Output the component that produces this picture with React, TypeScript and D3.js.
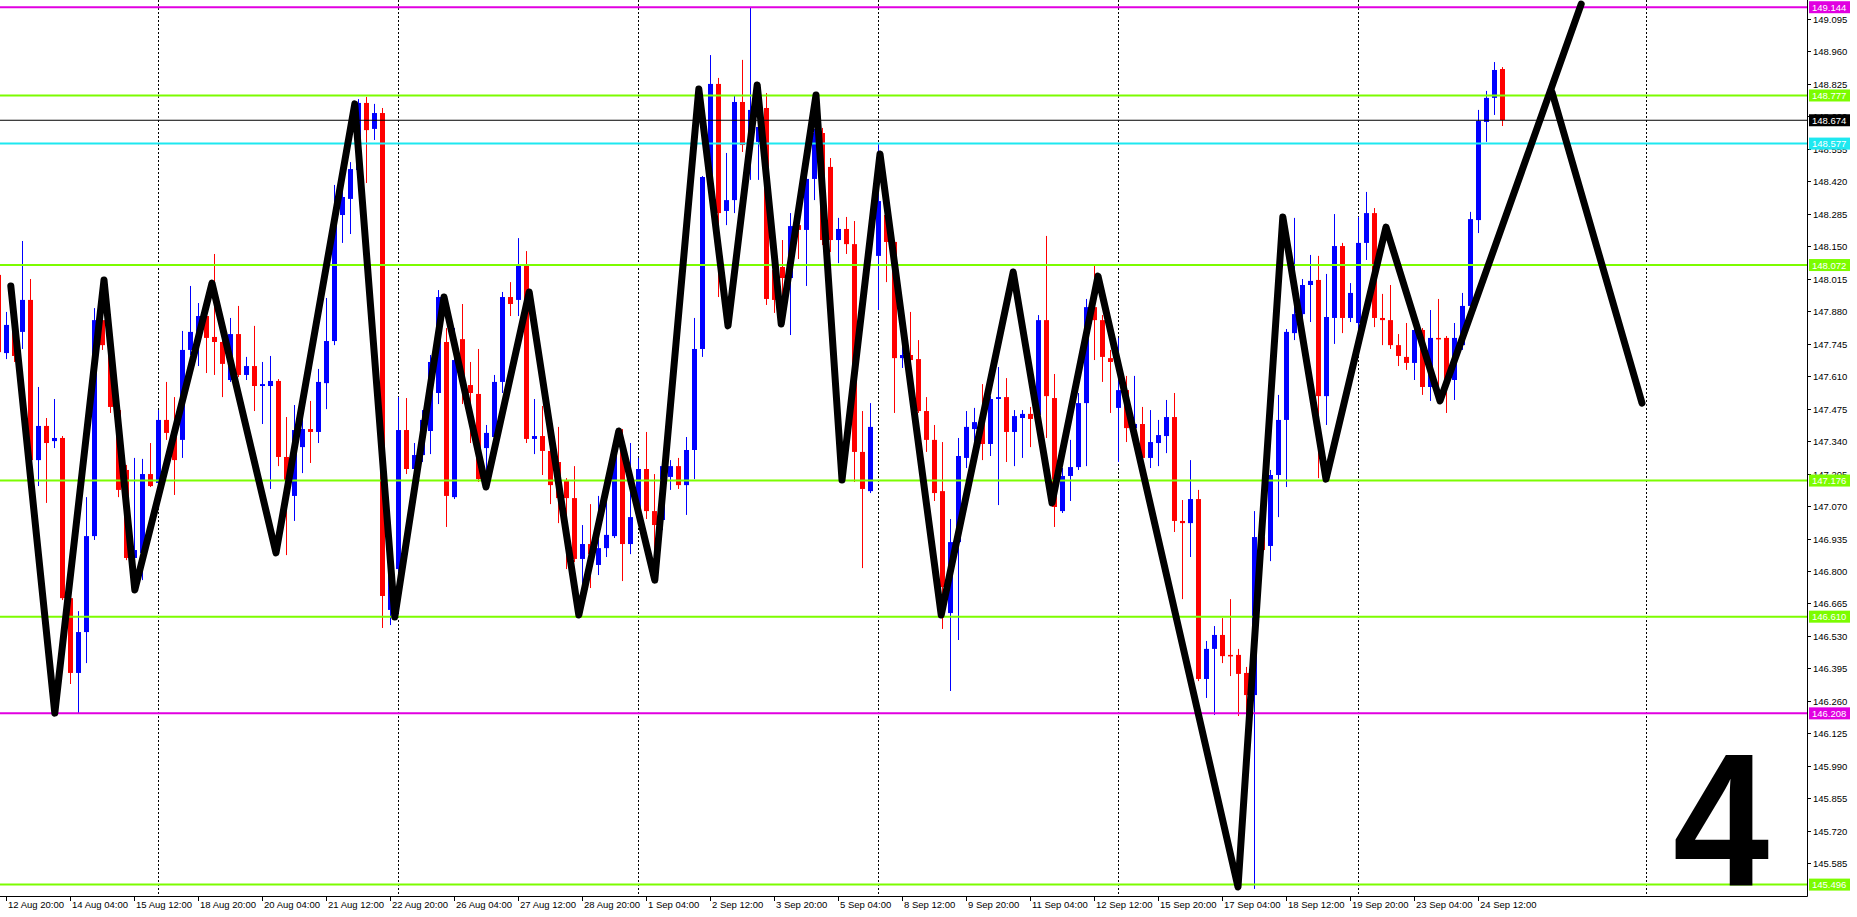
import React, { useRef, useEffect } from 'react';
import * as d3 from 'd3';

const W = 1857;
const H = 917;

// H4 bars, index of the first row below (it is cut at the left edge)
const firstBar = -1;

// [open, high, low, close]
const candles: [number, number, number, number][] = [
  [148.031, 148.060, 147.677, 147.710],
  [147.706, 147.877, 147.681, 147.823],
  [147.802, 147.843, 147.669, 147.694],
  [147.794, 148.172, 147.723, 147.927],
  [147.927, 148.014, 147.220, 147.261],
  [147.261, 147.565, 147.153, 147.403],
  [147.403, 147.436, 147.083, 147.332],
  [147.340, 147.515, 147.311, 147.353],
  [147.353, 147.361, 146.679, 146.687],
  [146.687, 146.696, 146.330, 146.376],
  [146.376, 146.633, 146.209, 146.546],
  [146.546, 147.107, 146.417, 146.945],
  [146.945, 147.893, 146.929, 147.843],
  [147.843, 147.873, 147.719, 147.739],
  [147.739, 147.760, 147.457, 147.482],
  [147.469, 147.490, 147.107, 147.137],
  [147.220, 147.241, 146.845, 146.854],
  [146.854, 147.270, 146.762, 146.887],
  [146.875, 147.266, 146.762, 147.203],
  [147.203, 147.332, 147.149, 147.153],
  [147.166, 147.469, 147.157, 147.428],
  [147.428, 147.586, 147.345, 147.374],
  [147.386, 147.523, 147.116, 147.261],
  [147.345, 147.798, 147.270, 147.719],
  [147.719, 147.985, 147.698, 147.794],
  [147.794, 147.914, 147.652, 147.860],
  [147.860, 147.873, 147.623, 147.769],
  [147.773, 148.118, 147.615, 147.752],
  [147.752, 147.760, 147.523, 147.661],
  [147.594, 147.852, 147.586, 147.785],
  [147.785, 147.902, 147.606, 147.615],
  [147.615, 147.690, 147.594, 147.652],
  [147.652, 147.819, 147.465, 147.569],
  [147.569, 147.669, 147.411, 147.577],
  [147.569, 147.694, 147.141, 147.590],
  [147.590, 147.598, 147.236, 147.274],
  [147.274, 147.440, 146.866, 147.178],
  [147.112, 147.490, 147.008, 147.386],
  [147.315, 147.440, 147.207, 147.390],
  [147.390, 147.507, 147.249, 147.378],
  [147.378, 147.640, 147.332, 147.586],
  [147.581, 147.935, 147.473, 147.756],
  [147.756, 148.405, 147.739, 148.280],
  [148.280, 148.384, 148.164, 148.355],
  [148.347, 148.500, 148.201, 148.471],
  [148.467, 148.762, 148.446, 148.746],
  [148.746, 148.771, 148.413, 148.633],
  [148.638, 148.742, 148.592, 148.704],
  [148.704, 148.725, 146.563, 146.696],
  [146.638, 146.908, 146.575, 146.808],
  [146.808, 147.523, 146.796, 147.386],
  [147.386, 147.519, 147.203, 147.224],
  [147.224, 147.332, 147.174, 147.282],
  [147.282, 147.469, 147.253, 147.428],
  [147.382, 147.698, 147.286, 147.669],
  [147.540, 147.968, 147.494, 147.939],
  [147.752, 147.810, 146.983, 147.112],
  [147.107, 147.810, 147.099, 147.677],
  [147.764, 147.910, 147.494, 147.573],
  [147.573, 147.669, 147.332, 147.540],
  [147.536, 147.723, 147.170, 147.182],
  [147.311, 147.407, 147.149, 147.374],
  [147.357, 147.615, 147.345, 147.586],
  [147.586, 147.960, 147.540, 147.939],
  [147.939, 148.001, 147.860, 147.910],
  [147.927, 148.184, 147.860, 148.068],
  [148.068, 148.130, 147.332, 147.349],
  [147.349, 147.515, 147.286, 147.361],
  [147.361, 147.486, 147.199, 147.299],
  [147.299, 147.332, 147.078, 147.157],
  [147.253, 147.399, 146.999, 147.103],
  [147.178, 147.186, 146.808, 147.103],
  [147.103, 147.236, 146.837, 146.850],
  [146.850, 146.991, 146.729, 146.912],
  [146.912, 147.078, 146.729, 146.870],
  [146.825, 147.112, 146.783, 146.895],
  [146.895, 147.095, 146.858, 146.950],
  [146.945, 147.332, 146.937, 147.315],
  [147.315, 147.390, 146.758, 146.912],
  [146.912, 147.332, 146.870, 147.024],
  [147.024, 147.270, 147.016, 147.224],
  [147.224, 147.378, 147.016, 147.049],
  [147.049, 147.203, 146.762, 146.991],
  [147.012, 147.261, 146.970, 147.236],
  [147.191, 147.261, 147.137, 147.236],
  [147.236, 147.270, 147.141, 147.157],
  [147.157, 147.357, 147.033, 147.303],
  [147.303, 147.852, 147.182, 147.723],
  [147.723, 148.442, 147.690, 148.438],
  [148.438, 148.945, 148.426, 148.825],
  [148.825, 148.850, 147.939, 148.288],
  [148.297, 148.538, 148.238, 148.342],
  [148.342, 148.775, 148.288, 148.750],
  [148.750, 148.925, 148.542, 148.571],
  [148.571, 149.145, 148.426, 148.717],
  [148.584, 148.829, 148.426, 148.646],
  [148.725, 148.787, 147.906, 147.931],
  [148.051, 148.176, 147.873, 147.927],
  [148.064, 148.176, 147.827, 148.018],
  [148.018, 148.288, 147.781, 148.234],
  [148.238, 148.288, 148.097, 148.218],
  [148.218, 148.446, 147.985, 148.430],
  [148.430, 148.638, 148.342, 148.621],
  [148.621, 148.642, 148.155, 148.176],
  [148.480, 148.517, 148.126, 148.176],
  [148.176, 148.268, 148.080, 148.222],
  [148.222, 148.272, 148.118, 148.159],
  [148.159, 148.255, 147.170, 147.295],
  [147.295, 147.465, 146.812, 147.141],
  [147.132, 147.498, 147.124, 147.399],
  [148.110, 148.575, 147.885, 148.338],
  [148.280, 148.297, 148.001, 148.168],
  [148.168, 148.176, 147.457, 147.685],
  [147.685, 147.744, 147.644, 147.698],
  [147.698, 147.877, 147.669, 147.677],
  [147.681, 147.760, 147.457, 147.465],
  [147.465, 147.523, 147.295, 147.345],
  [147.345, 147.407, 147.091, 147.124],
  [147.132, 147.336, 146.559, 146.733],
  [146.625, 147.016, 146.301, 146.920],
  [146.920, 147.353, 146.513, 147.278],
  [147.270, 147.465, 147.228, 147.399],
  [147.390, 147.478, 147.328, 147.419],
  [147.415, 147.577, 147.261, 147.328],
  [147.328, 147.527, 147.278, 147.515],
  [147.515, 147.648, 147.074, 147.523],
  [147.523, 147.602, 147.253, 147.378],
  [147.378, 147.469, 147.236, 147.444],
  [147.436, 147.469, 147.270, 147.453],
  [147.453, 147.482, 147.315, 147.432],
  [147.448, 147.864, 147.432, 147.843],
  [147.843, 148.193, 147.353, 147.527],
  [147.519, 147.619, 146.983, 147.066],
  [147.049, 147.228, 147.041, 147.195],
  [147.195, 147.345, 147.091, 147.232],
  [147.232, 147.540, 147.220, 147.498],
  [147.498, 147.931, 147.236, 147.897],
  [147.897, 148.068, 147.677, 147.843],
  [147.843, 147.864, 147.586, 147.690],
  [147.685, 147.719, 147.457, 147.669],
  [147.478, 147.769, 147.253, 147.552],
  [147.552, 147.611, 147.336, 147.394],
  [147.394, 147.611, 147.378, 147.411],
  [147.411, 147.482, 147.261, 147.270],
  [147.270, 147.469, 147.228, 147.336],
  [147.332, 147.428, 147.236, 147.365],
  [147.361, 147.511, 147.290, 147.440],
  [147.440, 147.540, 146.962, 147.008],
  [147.008, 147.095, 146.683, 146.999],
  [146.999, 147.261, 146.858, 147.099],
  [147.099, 147.137, 146.342, 146.351],
  [146.351, 146.509, 146.272, 146.476],
  [146.476, 146.571, 146.201, 146.534],
  [146.534, 146.604, 146.417, 146.446],
  [146.451, 146.683, 146.363, 146.446],
  [146.451, 146.476, 146.197, 146.372],
  [146.376, 146.401, 146.201, 146.284],
  [146.284, 147.049, 145.478, 146.941],
  [146.941, 147.012, 146.845, 146.887],
  [146.904, 147.220, 146.841, 147.199],
  [147.199, 147.532, 147.024, 147.428],
  [147.428, 147.806, 147.149, 147.794],
  [147.789, 148.268, 147.760, 147.868],
  [147.868, 148.014, 147.843, 147.989],
  [147.989, 148.114, 147.835, 148.006],
  [148.010, 148.110, 147.186, 147.527],
  [147.527, 148.035, 147.407, 147.856],
  [147.852, 148.284, 147.744, 148.151],
  [148.151, 148.164, 147.789, 147.852],
  [147.852, 147.997, 147.835, 147.956],
  [147.831, 148.272, 147.802, 148.164],
  [148.164, 148.376, 148.093, 148.288],
  [148.288, 148.309, 147.814, 147.852],
  [147.852, 147.952, 147.739, 147.843],
  [147.843, 147.989, 147.723, 147.739],
  [147.739, 147.785, 147.652, 147.694],
  [147.690, 147.831, 147.636, 147.665],
  [147.665, 147.810, 147.594, 147.802],
  [147.802, 147.810, 147.532, 147.565],
  [147.565, 147.885, 147.507, 147.769],
  [147.769, 147.931, 147.515, 147.764],
  [147.769, 147.777, 147.457, 147.594],
  [147.594, 147.831, 147.511, 147.769],
  [147.739, 147.956, 147.719, 147.902],
  [147.902, 148.293, 147.885, 148.263],
  [148.259, 148.717, 148.205, 148.671],
  [148.667, 148.796, 148.584, 148.767],
  [148.767, 148.916, 148.696, 148.883],
  [148.887, 148.895, 148.650, 148.675],
];

// hand-drawn zigzag: [bar index, price]
const zigzag: [number, number][] = [
  [0.6, 147.985], [6.1, 146.209], [12.25, 148.010], [16.1, 146.721],
  [25.75, 147.997], [33.75, 146.875], [43.6, 148.742], [48.6, 146.609],
  [54.75, 147.939], [60, 147.149], [65.4, 147.960], [71.6, 146.617],
  [76.6, 147.382], [81.1, 146.762], [86.6, 148.804], [90.25, 147.819],
  [93.9, 148.821], [96.9, 147.827], [101.25, 148.779], [104.5, 147.178],
  [109.25, 148.534], [116.9, 146.617], [125.9, 148.043], [130.75, 147.083],
  [136.5, 148.026], [154, 145.486], [159.6, 148.272], [165, 147.182],
  [172.5, 148.230], [179.25, 147.507], [196.9, 149.157],
];
const zigzagTail: [number, number][] = [[193.25, 148.791], [204.5, 147.498]];

const greenLevels = [148.777, 148.072, 147.176, 146.610, 145.496];
const magentaLevels = [149.144, 146.208];
const cyanLevels = [148.577];
const lastPrice = 148.674;

const priceTicks = [
  149.095, 148.960, 148.825, 148.690, 148.555, 148.420, 148.285, 148.150, 148.015,
  147.880, 147.745, 147.610, 147.475, 147.340, 147.205, 147.070, 146.935, 146.800,
  146.665, 146.530, 146.395, 146.260, 146.125, 145.990, 145.855, 145.720, 145.585,
];

const timeLabels: [number, string][] = [
  [0, '12 Aug 20:00'], [8, '14 Aug 04:00'], [16, '15 Aug 12:00'], [24, '18 Aug 20:00'],
  [32, '20 Aug 04:00'], [40, '21 Aug 12:00'], [48, '22 Aug 20:00'], [56, '26 Aug 04:00'],
  [64, '27 Aug 12:00'], [72, '28 Aug 20:00'], [80, '1 Sep 04:00'], [88, '2 Sep 12:00'],
  [96, '3 Sep 20:00'], [104, '5 Sep 04:00'], [112, '8 Sep 12:00'], [120, '9 Sep 20:00'],
  [128, '11 Sep 04:00'], [136, '12 Sep 12:00'], [144, '15 Sep 20:00'], [152, '17 Sep 04:00'],
  [160, '18 Sep 12:00'], [168, '19 Sep 20:00'], [176, '23 Sep 04:00'], [184, '24 Sep 12:00'],
];

// period separators (bar index)
const separators = [19, 49, 79, 109, 139, 169, 205];

const App: React.FC = () => {
  const ref = useRef<SVGSVGElement | null>(null);

  useEffect(() => {
    const svg = d3.select(ref.current);
    svg.selectAll('*').remove();

    const axisX = 1807;
    const axisY = 896;
    const font = '"Liberation Sans", Arial, sans-serif';

    const x = d3.scaleLinear().domain([0, 205]).range([6, 1646]);
    const y = d3.scaleLinear().domain([149.174, 145.496]).range([0, 884.6]);
    const fmt = d3.format('.3f');

    svg.append('rect').attr('width', W).attr('height', H).attr('fill', '#fff');

    // separators
    svg.append('g')
      .selectAll('line')
      .data(separators)
      .join('line')
      .attr('x1', d => Math.round(x(d)) + 0.5)
      .attr('x2', d => Math.round(x(d)) + 0.5)
      .attr('y1', 0)
      .attr('y2', axisY - 2)
      .attr('stroke', '#000')
      .attr('stroke-width', 1)
      .attr('stroke-dasharray', '2,2');

    // candles
    const bars = candles.map((c, k) => ({ i: k + firstBar, o: c[0], h: c[1], l: c[2], c: c[3] }));
    const cg = svg.append('g');
    bars.forEach(b => {
      const cx = Math.round(x(b.i));
      const col = b.c >= b.o ? '#0000ff' : '#ff0000';
      cg.append('line')
        .attr('x1', cx + 0.5).attr('x2', cx + 0.5)
        .attr('y1', y(b.h)).attr('y2', y(b.l))
        .attr('stroke', col).attr('stroke-width', 1);
      const top = y(Math.max(b.o, b.c));
      const bot = y(Math.min(b.o, b.c));
      cg.append('rect')
        .attr('x', cx - 2)
        .attr('y', top)
        .attr('width', 5)
        .attr('height', Math.max(1.5, bot - top))
        .attr('fill', col);
    });

    // horizontal levels
    const lg = svg.append('g');
    const hline = (p: number, color: string, w: number) => {
      lg.append('line')
        .attr('x1', 0).attr('x2', axisX)
        .attr('y1', y(p)).attr('y2', y(p))
        .attr('stroke', color).attr('stroke-width', w);
    };
    greenLevels.forEach(p => hline(p, '#7cfc00', 2));
    magentaLevels.forEach(p => hline(p, '#e100e1', 2));
    cyanLevels.forEach(p => hline(p, '#1ee8f0', 2));
    hline(lastPrice, '#000', 1);

    // zigzag
    const line = d3.line<[number, number]>()
      .x(d => x(d[0]))
      .y(d => y(d[1]));
    [zigzag, zigzagTail].forEach(pts => {
      svg.append('path')
        .attr('d', line(pts))
        .attr('fill', 'none')
        .attr('stroke', '#000')
        .attr('stroke-width', 7)
        .attr('stroke-linejoin', 'round')
        .attr('stroke-linecap', 'round');
    });

    // big figure in the corner
    svg.append('text')
      .attr('transform', 'translate(1673,886) scale(0.91,1)')
      .attr('font-family', font)
      .attr('font-weight', 'bold')
      .attr('font-size', '190px')
      .attr('fill', '#000')
      .text('4');

    // axes frame
    svg.append('rect').attr('x', axisX + 1).attr('y', 0).attr('width', W - axisX).attr('height', H).attr('fill', '#fff');
    svg.append('rect').attr('x', 0).attr('y', axisY + 1).attr('width', W).attr('height', H - axisY).attr('fill', '#fff');
    svg.append('line')
      .attr('x1', axisX + 0.5).attr('x2', axisX + 0.5)
      .attr('y1', 0).attr('y2', axisY + 0.5)
      .attr('stroke', '#000');
    svg.append('line')
      .attr('x1', 0).attr('x2', axisX + 0.5)
      .attr('y1', axisY + 0.5).attr('y2', axisY + 0.5)
      .attr('stroke', '#000');

    // price ticks
    const pg = svg.append('g').attr('font-family', font).attr('font-size', '9.5px');
    priceTicks.forEach(v => {
      const yy = Math.round(y(v)) + 0.5;
      pg.append('line')
        .attr('x1', axisX).attr('x2', axisX + 4)
        .attr('y1', yy).attr('y2', yy)
        .attr('stroke', '#000');
      pg.append('text')
        .attr('x', axisX + 6)
        .attr('y', yy + 3.5)
        .attr('fill', '#000')
        .text(fmt(v));
    });

    // price labels of the levels
    const tag = (p: number, bg: string) => {
      const yy = y(p);
      pg.append('rect')
        .attr('x', axisX + 2).attr('y', yy - 6)
        .attr('width', 41).attr('height', 12)
        .attr('fill', bg);
      pg.append('text')
        .attr('x', axisX + 5)
        .attr('y', yy + 3.5)
        .attr('fill', '#fff')
        .text(fmt(p));
    };
    greenLevels.forEach(p => tag(p, '#7cfc00'));
    magentaLevels.forEach(p => tag(p, '#e100e1'));
    cyanLevels.forEach(p => tag(p, '#1ee8f0'));
    tag(lastPrice, '#000');

    // time axis
    const tg = svg.append('g').attr('font-family', font).attr('font-size', '9.5px');
    timeLabels.forEach(([i, s]) => {
      const xx = Math.round(x(i)) + 0.5;
      tg.append('line')
        .attr('x1', xx).attr('x2', xx)
        .attr('y1', axisY).attr('y2', axisY + 5)
        .attr('stroke', '#000');
      tg.append('text')
        .attr('x', xx + 1.5)
        .attr('y', axisY + 12)
        .attr('fill', '#000')
        .text(s);
    });
  }, []);

  return (
    <svg
      ref={ref}
      width={W}
      height={H}
      style={{ position: 'absolute', left: 0, top: 0, display: 'block' }}
    />
  );
};

export default App;
